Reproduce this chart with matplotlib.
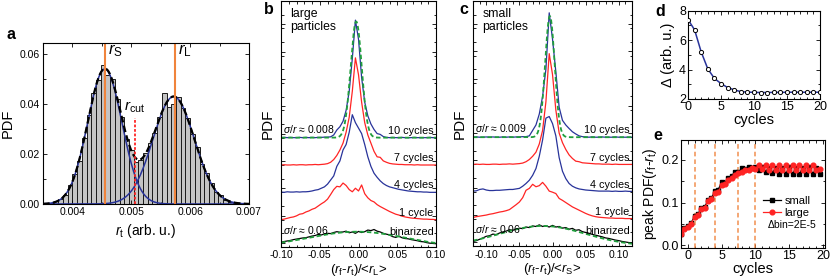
import numpy as np
import matplotlib
matplotlib.use("Agg")
import matplotlib.pyplot as plt
from matplotlib.ticker import MultipleLocator, FormatStrFormatter

plt.rcParams['font.family'] = ['Liberation Sans', 'DejaVu Sans']
plt.rcParams['mathtext.fontset'] = 'custom'
plt.rcParams['mathtext.rm'] = 'Liberation Sans'
plt.rcParams['mathtext.it'] = 'Liberation Sans:italic'
plt.rcParams['mathtext.bf'] = 'Liberation Sans:bold'
plt.rcParams['axes.unicode_minus'] = False
plt.rcParams['xtick.direction'] = 'in'
plt.rcParams['ytick.direction'] = 'in'
plt.rcParams['axes.linewidth'] = 0.8

BLUE = '#28339a'
RED = '#ff2424'
GREEN = '#1f9e3c'
ORANGE = '#f0843c'

# ---- panel a: size histogram ----
hist_start = 0.0036
hist_width = 0.00008
hist_pdf = [0.0005, 0.0012, 0.0022, 0.0035, 0.0075, 0.0120, 0.0172, 0.0265, 0.0355, 0.0445,
            0.0495, 0.0556, 0.0515, 0.0500, 0.0420, 0.0350, 0.0262, 0.0215, 0.0170, 0.0175,
            0.0205, 0.0245, 0.0285, 0.0350, 0.0445, 0.0390, 0.0400, 0.0430, 0.0385, 0.0345,
            0.0280, 0.0230, 0.0160, 0.0125, 0.0085, 0.0050, 0.0035, 0.0015, 0.0010, 0.0005,
            0.0002]
# gaussian fit parameters (amplitude, centre, sigma)
fit_small = (0.054, 0.00455, 0.00029)
fit_large = (0.043, 0.00572, 0.00035)
r_s = 0.00455
r_l = 0.00574
r_cut = 0.00506
r_cut_top = 0.0345

# ---- panel b: large particles ----
b_x = np.linspace(-0.10, 0.10, 51)
b_10 = [0.00, 0.01, 0.00, 0.01, 0.00, 0.00, 0.01, 0.00, 0.01, 0.00, 0.01, 0.00, 0.01, 0.01, 0.02, 0.02,
        0.03, 0.10, 0.28, 0.40, 0.60, 1.00, 1.70, 2.90, 4.30, 3.60, 2.20, 1.30, 0.80, 0.50, 0.30, 0.15,
        0.12, 0.04, 0.01,
        0.00, 0.01, 0.00, 0.00, 0.01, 0.00, 0.00, 0.00, 0.01, 0.00, 0.00, 0.00, 0.00, 0.01, 0.00, 0.00]
b_7 = [0.00, 0.01, 0.00, 0.00, 0.01, 0.00, 0.01, 0.01, 0.00, 0.01, 0.01, 0.02, 0.01, 0.02,
       0.03, 0.05, 0.10, 0.20, 0.35, 0.55, 0.80, 1.20, 1.75, 2.70, 3.92, 3.30, 2.30, 1.55, 1.10, 0.80,
       0.50, 0.30, 0.28, 0.15, 0.10, 0.06, 0.04, 0.03,
       0.02, 0.02, 0.01, 0.01, 0.01, 0.00, 0.01, 0.00, 0.00, 0.00, 0.00, 0.00, 0.00]
b_4 = [0.01, 0.00, 0.02, 0.01, 0.01, 0.02, 0.01, 0.02, 0.02,
       0.03, 0.05, 0.08, 0.10, 0.15, 0.20, 0.30, 0.45, 0.60, 0.95, 1.15, 1.55, 1.75, 2.20, 2.84, 2.55,
       2.35, 2.15, 1.75, 1.30, 0.95, 0.70, 0.55, 0.42, 0.32, 0.25, 0.20, 0.17, 0.14, 0.11, 0.09, 0.07,
       0.05, 0.04, 0.03,
       0.02, 0.02, 0.01, 0.01, 0.00, 0.00, 0.00]
b_1 = [0.00, 0.02, 0.05, 0.08, 0.10, 0.14, 0.20, 0.22, 0.28, 0.32,
       0.38, 0.42, 0.50, 0.58, 0.65, 0.75, 0.92, 1.10, 1.22, 1.20,
       1.34, 1.25, 1.10, 1.02, 1.15, 1.05, 1.27, 0.95, 0.80, 0.70,
       0.65, 0.55, 0.48, 0.42, 0.36, 0.30, 0.25, 0.20, 0.17, 0.13,
       0.10, 0.08, 0.06, 0.05, 0.04, 0.03, 0.02, 0.02, 0.01, 0.01, 0.00]
b_bin = [0.17, 0.20, 0.22, 0.24, 0.27, 0.29, 0.31, 0.33, 0.34, 0.37,
         0.40, 0.42, 0.46, 0.44, 0.48, 0.50, 0.49, 0.53, 0.56, 0.54,
         0.55, 0.58, 0.52, 0.55, 0.50, 0.57, 0.53, 0.56, 0.62, 0.60,
         0.64, 0.58, 0.55, 0.50, 0.47, 0.44, 0.38, 0.35, 0.40, 0.34,
         0.31, 0.30, 0.27, 0.25, 0.23, 0.20, 0.19, 0.16, 0.14, 0.13, 0.12]
b_fit10 = (4.25, -0.003, 0.0072)
b_fitbin = (0.56, -0.002, 0.062)

# ---- panel c: small particles ----
c_x = np.linspace(-0.12, 0.12, 49)
c_10 = [0.00, 0.01, 0.00, 0.00, 0.01, 0.00, 0.01, 0.00, 0.00, 0.01, 0.00, 0.01, 0.00, 0.01, 0.01, 0.02, 0.02,
        0.05, 0.25, 0.45, 0.85, 1.50, 2.50, 4.57, 3.60, 2.40, 1.10, 0.62, 0.45, 0.32, 0.20, 0.12, 0.05, 0.02,
        0.01, 0.00, 0.01, 0.00, 0.00, 0.01, 0.00, 0.00, 0.00, 0.01, 0.00, 0.00, 0.00, 0.00, 0.00]
c_7 = [0.00, 0.01, 0.00, 0.01, 0.00, 0.00, 0.01, 0.01, 0.00, 0.01, 0.01, 0.02, 0.01, 0.02, 0.03,
       0.05, 0.10, 0.18, 0.30, 0.45, 0.75, 1.25, 2.30, 4.07, 3.30, 2.00, 1.15, 0.80, 0.55, 0.35, 0.22,
       0.12, 0.10, 0.06, 0.05, 0.04, 0.03, 0.02,
       0.02, 0.01, 0.01, 0.01, 0.00, 0.01, 0.00, 0.00, 0.00, 0.00, 0.00]
c_4 = [0.02, 0.03, 0.08, 0.10, 0.06, 0.04, 0.04, 0.05, 0.05, 0.06,
       0.07, 0.08, 0.08, 0.10, 0.12, 0.20, 0.30, 0.42, 0.60, 0.85,
       1.30, 1.90, 2.70, 2.76, 2.50, 2.05, 1.25, 0.75, 0.48, 0.30,
       0.20, 0.14, 0.10, 0.08, 0.06, 0.05, 0.04, 0.03, 0.02, 0.02,
       0.02, 0.02, 0.01, 0.02, 0.01, 0.01, 0.02, 0.01, 0.01]
c_1 = [0.05, 0.08, 0.10, 0.12, 0.14, 0.17, 0.19, 0.22, 0.25, 0.27,
       0.30, 0.34, 0.43, 0.52, 0.62, 0.78, 1.05, 1.12, 1.27, 1.18,
       1.22, 1.34, 1.20, 1.02, 0.98, 0.93, 0.75, 0.68, 0.60, 0.52,
       0.44, 0.38, 0.32, 0.26, 0.20, 0.15, 0.11, 0.08, 0.06, 0.05,
       0.04, 0.03, 0.03, 0.02, 0.02, 0.02, 0.01, 0.01, 0.01]
c_bin = [0.17, 0.20, 0.25, 0.30, 0.36, 0.38, 0.44, 0.42, 0.48, 0.52,
         0.55, 0.60, 0.58, 0.62, 0.66, 0.64, 0.70, 0.68, 0.74, 0.72,
         0.78, 0.72, 0.74, 0.70, 0.76, 0.70, 0.72, 0.66, 0.68, 0.62,
         0.65, 0.58, 0.60, 0.53, 0.50, 0.47, 0.43, 0.40, 0.37, 0.34,
         0.30, 0.28, 0.25, 0.22, 0.20, 0.17, 0.15, 0.13, 0.12]
c_fit10 = (4.45, -0.004, 0.0072)
c_fitbin = (0.74, -0.015, 0.065)

# vertical offsets of the stacked curves
offsets = {'binarized': 0, '1 cycle': 1, '4 cycles': 2, '7 cycles': 3, '10 cycles': 4}

# ---- panel d ----
d_cycles = list(range(21))
d_delta = [7.40, 6.70, 5.20, 4.05, 3.40, 3.05, 2.78, 2.62, 2.50, 2.47, 2.45,
           2.44, 2.44, 2.45, 2.45, 2.46, 2.46, 2.46, 2.46, 2.46, 2.46]

# ---- panel e ----
e_cycles = [c / 2 for c in range(-2, 40)]
e_small = [0.027, 0.040, 0.045, 0.052, 0.068, 0.072, 0.088, 0.090, 0.106, 0.110,
           0.128, 0.130, 0.148, 0.147, 0.158, 0.163, 0.172, 0.172, 0.180, 0.178,
           0.183, 0.180, 0.184, 0.176, 0.184, 0.172, 0.182, 0.170, 0.181, 0.168,
           0.182, 0.168, 0.183, 0.167, 0.182, 0.167, 0.182, 0.166, 0.183, 0.167,
           0.182, 0.168]
e_large = [0.025, 0.038, 0.043, 0.050, 0.066, 0.070, 0.084, 0.088, 0.103, 0.108,
           0.122, 0.125, 0.140, 0.143, 0.153, 0.158, 0.165, 0.170, 0.172, 0.176,
           0.176, 0.180, 0.178, 0.188, 0.178, 0.189, 0.176, 0.188, 0.177, 0.189,
           0.176, 0.188, 0.176, 0.189, 0.177, 0.188, 0.176, 0.189, 0.176, 0.188,
           0.176, 0.178]
e_marks = [1, 4, 7.5, 10]


def gauss(x, p):
    amp, mu, sig = p
    return amp * np.exp(-(x - mu) ** 2 / (2 * sig ** 2))


fig = plt.figure(figsize=(8.3, 2.79), dpi=100)

# ================= a =================
ax = fig.add_axes([0.0518, 0.2688, 0.2482, 0.577])
centers = hist_start + hist_width * (np.arange(len(hist_pdf)) + 0.5)
ax.bar(centers, hist_pdf, width=hist_width, color='#c4c4c4', edgecolor='#1a1a1a', linewidth=0.7)
xx = np.linspace(0.0035, 0.007, 500)
ax.plot(xx, gauss(xx, fit_small), color=BLUE, lw=1.1)
ax.plot(xx, gauss(xx, fit_large), color=BLUE, lw=1.1)
ax.plot(xx, gauss(xx, fit_small) + gauss(xx, fit_large), color='black', lw=1.6, ls=(0, (3, 1.5)))
ax.axvline(r_s, color=ORANGE, lw=1.5)
ax.axvline(r_l, color=ORANGE, lw=1.5)
ax.plot([r_cut, r_cut], [0, r_cut_top], color=RED, lw=1.3, ls=(0, (1.5, 1)))
ax.text(r_s + 0.00006, 0.0612, r'$r_\mathrm{S}$', fontsize=12, ha='left', va='center')
ax.text(r_l + 0.00006, 0.0612, r'$r_\mathrm{L}$', fontsize=12, ha='left', va='center')
ax.text(r_cut, r_cut_top + 0.001, r'$r_\mathrm{cut}$', fontsize=11, ha='center', va='bottom')
ax.set_xlim(0.0035, 0.007)
ax.set_ylim(0, 0.0644)
ax.set_xticks([0.004, 0.005, 0.006, 0.007])
ax.set_yticks([0.0, 0.02, 0.04, 0.06])
ax.xaxis.set_major_formatter(FormatStrFormatter('%.3f'))
ax.yaxis.set_major_formatter(FormatStrFormatter('%.2f'))
ax.xaxis.set_minor_locator(MultipleLocator(0.0005))
ax.yaxis.set_minor_locator(MultipleLocator(0.01))
ax.tick_params(which='both', top=True, right=True, labelsize=7.5, length=3, width=0.6, pad=2.5)
ax.tick_params(which='minor', length=1.8)
ax.set_ylabel('PDF', fontsize=10.5, labelpad=3)
ax.set_xlabel(r'$r_\mathrm{t}$ (arb. u.)', fontsize=10, labelpad=3)
fig.text(0.0084, 0.875, 'a', fontsize=11.5, fontweight='bold', va='center')


def stacked(ax, x, curves, fit10, fitbin, xlim, sig10, sigbin, title):
    colors = {'10 cycles': BLUE, '7 cycles': RED, '4 cycles': BLUE, '1 cycle': RED, 'binarized': 'black'}
    for name, vals in curves.items():
        ax.plot(x, np.array(vals) + offsets[name], color=colors[name], lw=0.9)
    xf = np.linspace(xlim[0], xlim[1], 400)
    ax.plot(xf, gauss(xf, fit10) + offsets['10 cycles'], color=GREEN, lw=1.3, ls=(0, (2.5, 1.5)))
    ax.plot(xf, gauss(xf, fitbin) + offsets['binarized'], color=GREEN, lw=1.3, ls=(0, (2.5, 1.5)))
    xr = xlim[1] - 0.003 * (xlim[1] - xlim[0]) / 0.2
    for name in ['10 cycles', '7 cycles', '4 cycles', '1 cycle']:
        ax.text(xr, offsets[name] + 0.07, name, fontsize=7.8, ha='right', va='bottom')
    ax.text(xr, 0.55, 'binarized', fontsize=7.8, ha='right', va='center')
    xl = xlim[0] + 0.003 * (xlim[1] - xlim[0]) / 0.2
    ax.text(xl, offsets['10 cycles'] + 0.1, r'$\sigma/r$' + ' \u2248 ' + sig10, fontsize=7.5, ha='left', va='bottom')
    ax.text(xl, 0.62, r'$\sigma/r$' + ' \u2248 ' + sigbin, fontsize=7.5, ha='left', va='center')
    ax.text(0.06, 0.97, title, transform=ax.transAxes, fontsize=8.8, ha='left', va='top', linespacing=1.1)
    ax.set_xlim(*xlim)
    ax.set_ylim(0, 9.0)
    ax.set_yticks(np.arange(0.15, 9.0, 1.0))
    ax.yaxis.set_minor_locator(MultipleLocator(0.5))
    ax.set_yticklabels([])
    ax.set_xticks([-0.10, -0.05, 0.0, 0.05, 0.10])
    ax.xaxis.set_major_formatter(FormatStrFormatter('%.2f'))
    ax.xaxis.set_minor_locator(MultipleLocator(0.01))
    ax.tick_params(which='both', top=True, right=True, labelsize=7.5, length=3, width=0.6, pad=2.5)
    ax.tick_params(which='minor', length=1.8)
    ax.set_ylabel('PDF', fontsize=11, labelpad=2)


# ================= b =================
ax = fig.add_axes([0.3386, 0.1147, 0.1867, 0.8817])
stacked(ax, b_x, {'10 cycles': b_10, '7 cycles': b_7, '4 cycles': b_4, '1 cycle': b_1, 'binarized': b_bin},
        b_fit10, b_fitbin, (-0.10, 0.10), '0.008', '0.06', 'large\nparticles')
ax.set_xlabel(r'($r_\mathrm{f}$-$r_\mathrm{t}$)/<$r_\mathrm{L}$>', fontsize=9.5, labelpad=1)
fig.text(0.318, 0.965, 'b', fontsize=11.5, fontweight='bold', va='center')

# ================= c =================
ax = fig.add_axes([0.5699, 0.118, 0.1916, 0.878])
stacked(ax, c_x, {'10 cycles': c_10, '7 cycles': c_7, '4 cycles': c_4, '1 cycle': c_1, 'binarized': c_bin},
        c_fit10, c_fitbin, (-0.12, 0.12), '0.009', '0.06', 'small\nparticles')
ax.set_xlabel(r'($r_\mathrm{f}$-$r_\mathrm{t}$)/<$r_\mathrm{S}$>', fontsize=9.5, labelpad=1)
fig.text(0.553, 0.965, 'c', fontsize=11.5, fontweight='bold', va='center')

# ================= d =================
ax = fig.add_axes([0.8289, 0.6452, 0.159, 0.3164])
ax.plot(d_cycles, d_delta, color=BLUE, lw=1.1, zorder=2)
ax.plot(d_cycles, d_delta, ls='none', marker='o', ms=3, mfc='white', mec='black', mew=0.7, zorder=3)
ax.set_xlim(0, 20)
ax.set_ylim(2, 8)
ax.set_xticks([0, 5, 10, 15, 20])
ax.set_yticks([2, 4, 6, 8])
ax.xaxis.set_minor_locator(MultipleLocator(1))
ax.yaxis.set_minor_locator(MultipleLocator(1))
ax.tick_params(which='both', top=True, right=True, labelsize=9, length=3, width=0.6, pad=1.5)
ax.tick_params(which='minor', length=1.8)
ax.set_xlabel('cycles', fontsize=10.5, labelpad=0)
ax.set_ylabel('\u0394 (arb. u.)', fontsize=10.5, labelpad=3)
fig.text(0.790, 0.957, 'd', fontsize=11.5, fontweight='bold', va='center')

# ================= e =================
ax = fig.add_axes([0.8205, 0.1111, 0.1735, 0.3871])
for xm in e_marks:
    ax.axvline(xm, color=ORANGE, lw=1.1, ls=(0, (3, 2)), alpha=0.9)
ax.plot(e_cycles, e_small, color='black', lw=0.9, marker='s', ms=3.4, label='small')
ax.plot(e_cycles, e_large, color=RED, lw=0.9, marker='o', ms=3.4, label='large')
ax.set_xlim(-1, 20.3)
ax.set_ylim(-0.007, 0.247)
ax.set_xticks([0, 5, 10, 15, 20])
ax.set_yticks([0.0, 0.1, 0.2])
ax.yaxis.set_major_formatter(FormatStrFormatter('%.1f'))
ax.xaxis.set_minor_locator(MultipleLocator(1))
ax.yaxis.set_minor_locator(MultipleLocator(0.05))
ax.tick_params(which='both', top=True, right=True, labelsize=9, length=3, width=0.6, pad=1.5)
ax.tick_params(which='minor', length=1.8)
ax.legend(loc='center left', bbox_to_anchor=(0.54, 0.38), frameon=False, fontsize=8,
          handlelength=1.6, handletextpad=0.3, labelspacing=0.2, borderaxespad=0)
ax.text(0.6, 0.21, '\u0394bin=2E-5', transform=ax.transAxes, fontsize=7.5, ha='left', va='center')
ax.set_xlabel('cycles', fontsize=10.5, labelpad=0)
ax.set_ylabel(r'peak PDF($r_\mathrm{f}$-$r_\mathrm{t}$)', fontsize=10, labelpad=2)
fig.text(0.787, 0.515, 'e', fontsize=11.5, fontweight='bold', va='center')

fig.savefig('out.png', dpi=100)
